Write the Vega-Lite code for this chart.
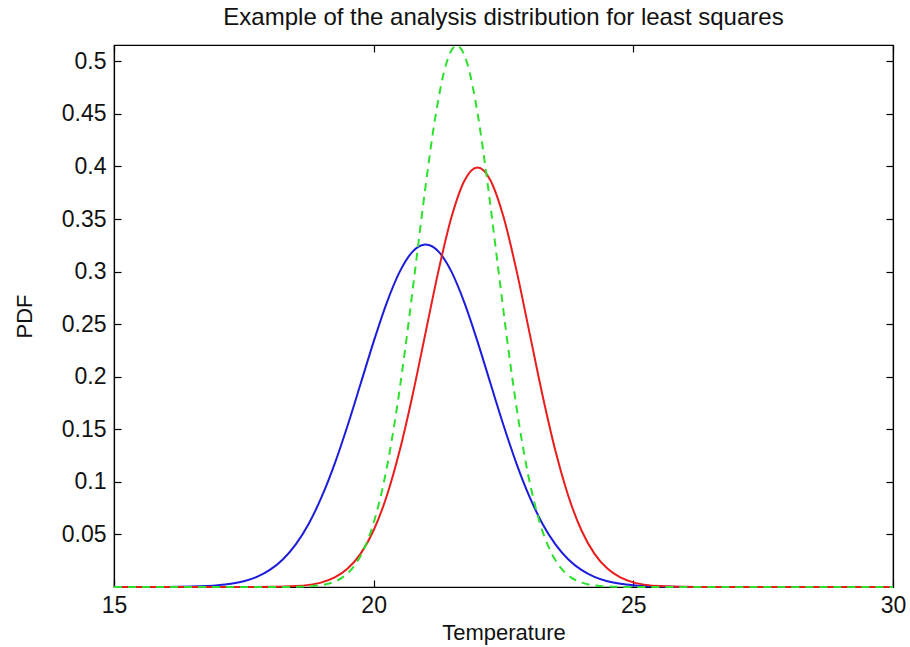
{
  "$schema": "https://vega.github.io/schema/vega-lite/v6.json",
  "width": 779,
  "height": 542,
  "autosize": {"type": "none"},
  "padding": {"left": 114, "top": 45, "right": 17, "bottom": 60},
  "background": "white",
  "title": {"text": "Example of the analysis distribution for least squares", "font": "Liberation Sans", "fontSize": 24, "fontWeight": "normal", "color": "#111", "anchor": "middle", "baseline": "alphabetic", "offset": -8},
  "config": {
    "view": {"stroke": "#000", "strokeWidth": 1.2},
    "axis": {"grid": false, "domainColor": "#000", "domainWidth": 1.2, "tickColor": "#000", "tickWidth": 1.2, "tickSize": -7, "labelFont": "Liberation Sans", "labelFontSize": 23, "labelColor": "#111", "titleFont": "Liberation Sans", "titleFontSize": 22, "titleFontWeight": "normal", "titleColor": "#111", "labelFlush": false}
  },
  "data": {"values": [
    {"s":"b","x":15,"y":0},{"s":"b","x":16,"y":0.00008},{"s":"b","x":16.5,"y":0.00038},{"s":"b","x":17,"y":0.00157},{"s":"b","x":17.25,"y":0.003},{"s":"b","x":17.5,"y":0.00549},{"s":"b","x":17.75,"y":0.00963},{"s":"b","x":18,"y":0.01622},{"s":"b","x":18.25,"y":0.02619},{"s":"b","x":18.5,"y":0.04056},{"s":"b","x":18.75,"y":0.06025},{"s":"b","x":19,"y":0.08587},{"s":"b","x":19.25,"y":0.11736},{"s":"b","x":19.5,"y":0.15387},{"s":"b","x":19.75,"y":0.1935},{"s":"b","x":20,"y":0.2334},{"s":"b","x":20.25,"y":0.27005},{"s":"b","x":20.5,"y":0.2997},{"s":"b","x":20.75,"y":0.31902},{"s":"b","x":21,"y":0.32574},{"s":"b","x":21.25,"y":0.31902},{"s":"b","x":21.5,"y":0.2997},{"s":"b","x":21.75,"y":0.27005},{"s":"b","x":22,"y":0.2334},{"s":"b","x":22.25,"y":0.1935},{"s":"b","x":22.5,"y":0.15387},{"s":"b","x":22.75,"y":0.11736},{"s":"b","x":23,"y":0.08587},{"s":"b","x":23.25,"y":0.06025},{"s":"b","x":23.5,"y":0.04056},{"s":"b","x":23.75,"y":0.02619},{"s":"b","x":24,"y":0.01622},{"s":"b","x":24.25,"y":0.00963},{"s":"b","x":24.5,"y":0.00549},{"s":"b","x":24.75,"y":0.003},{"s":"b","x":25,"y":0.00157},{"s":"b","x":25.5,"y":0.00038},{"s":"b","x":26,"y":0.00008},{"s":"b","x":27,"y":0},{"s":"b","x":30,"y":0},
    {"s":"r","x":15,"y":0},{"s":"r","x":16,"y":0},{"s":"r","x":17,"y":0},{"s":"r","x":17.5,"y":0.00002},{"s":"r","x":18,"y":0.00013},{"s":"r","x":18.5,"y":0.00087},{"s":"r","x":18.75,"y":0.00203},{"s":"r","x":19,"y":0.00443},{"s":"r","x":19.25,"y":0.00909},{"s":"r","x":19.5,"y":0.01753},{"s":"r","x":19.75,"y":0.03174},{"s":"r","x":20,"y":0.05399},{"s":"r","x":20.25,"y":0.08628},{"s":"r","x":20.5,"y":0.12952},{"s":"r","x":20.75,"y":0.18265},{"s":"r","x":21,"y":0.24197},{"s":"r","x":21.25,"y":0.30114},{"s":"r","x":21.5,"y":0.35207},{"s":"r","x":21.75,"y":0.38667},{"s":"r","x":22,"y":0.39894},{"s":"r","x":22.25,"y":0.38667},{"s":"r","x":22.5,"y":0.35207},{"s":"r","x":22.75,"y":0.30114},{"s":"r","x":23,"y":0.24197},{"s":"r","x":23.25,"y":0.18265},{"s":"r","x":23.5,"y":0.12952},{"s":"r","x":23.75,"y":0.08628},{"s":"r","x":24,"y":0.05399},{"s":"r","x":24.25,"y":0.03174},{"s":"r","x":24.5,"y":0.01753},{"s":"r","x":24.75,"y":0.00909},{"s":"r","x":25,"y":0.00443},{"s":"r","x":25.25,"y":0.00203},{"s":"r","x":25.5,"y":0.00087},{"s":"r","x":26,"y":0.00013},{"s":"r","x":26.5,"y":0.00002},{"s":"r","x":27,"y":0},{"s":"r","x":30,"y":0},
    {"s":"g","x":15,"y":0},{"s":"g","x":17.6,"y":0},{"s":"g","x":18.2,"y":0.00003},{"s":"g","x":18.6,"y":0.00028},{"s":"g","x":18.8,"y":0.00075},{"s":"g","x":19,"y":0.00184},{"s":"g","x":19.2,"y":0.00424},{"s":"g","x":19.4,"y":0.00912},{"s":"g","x":19.6,"y":0.01837},{"s":"g","x":19.8,"y":0.03461},{"s":"g","x":20,"y":0.061},{"s":"g","x":20.2,"y":0.10056},{"s":"g","x":20.4,"y":0.15513},{"s":"g","x":20.6,"y":0.22383},{"s":"g","x":20.8,"y":0.30214},{"s":"g","x":21,"y":0.38155},{"s":"g","x":21.2,"y":0.45074},{"s":"g","x":21.4,"y":0.49815},{"s":"g","x":21.6,"y":0.51503},{"s":"g","x":21.8,"y":0.49815},{"s":"g","x":22,"y":0.45074},{"s":"g","x":22.2,"y":0.38155},{"s":"g","x":22.4,"y":0.30214},{"s":"g","x":22.6,"y":0.22383},{"s":"g","x":22.8,"y":0.15513},{"s":"g","x":23,"y":0.10056},{"s":"g","x":23.2,"y":0.061},{"s":"g","x":23.4,"y":0.03461},{"s":"g","x":23.6,"y":0.01837},{"s":"g","x":23.8,"y":0.00912},{"s":"g","x":24,"y":0.00424},{"s":"g","x":24.2,"y":0.00184},{"s":"g","x":24.4,"y":0.00075},{"s":"g","x":24.6,"y":0.00028},{"s":"g","x":25,"y":0.00003},{"s":"g","x":25.6,"y":0},{"s":"g","x":30,"y":0}
  ]},
  "resolve": {"axis": {"x": "independent", "y": "independent"}},
  "layer": [
    {
      "transform": [{"filter": "datum.s === 'b'"}],
      "mark": {"type": "line", "color": "#1c1cdc", "strokeWidth": 2, "interpolate": "monotone"},
      "encoding": {
        "x": {"field": "x", "type": "quantitative", "scale": {"domain": [15, 30], "nice": false, "zero": false},
          "axis": {"orient": "bottom", "values": [15, 20, 25, 30], "title": "Temperature", "labelPadding": 14, "titlePadding": 5}},
        "y": {"field": "y", "type": "quantitative", "scale": {"domain": [0, 0.5155], "nice": false},
          "axis": {"orient": "left", "values": [0.05, 0.1, 0.15, 0.2, 0.25, 0.3, 0.35, 0.4, 0.45, 0.5], "title": "PDF", "labelPadding": 15, "titlePadding": 25, "format": "~g"}}
      }
    },
    {
      "transform": [{"filter": "datum.s === 'r'"}],
      "mark": {"type": "line", "color": "#ea1c1c", "strokeWidth": 2, "interpolate": "monotone"},
      "encoding": {
        "x": {"field": "x", "type": "quantitative",
          "axis": {"orient": "top", "values": [15, 20, 25, 30], "labels": false, "title": null}},
        "y": {"field": "y", "type": "quantitative",
          "axis": {"orient": "right", "values": [0.05, 0.1, 0.15, 0.2, 0.25, 0.3, 0.35, 0.4, 0.45, 0.5], "labels": false, "title": null}}
      }
    },
    {
      "transform": [{"filter": "datum.s === 'g'"}],
      "mark": {"type": "line", "color": "#2ee02e", "strokeWidth": 2, "strokeDash": [8, 6], "interpolate": "monotone"},
      "encoding": {
        "x": {"field": "x", "type": "quantitative", "axis": null},
        "y": {"field": "y", "type": "quantitative", "axis": null}
      }
    }
  ]
}
